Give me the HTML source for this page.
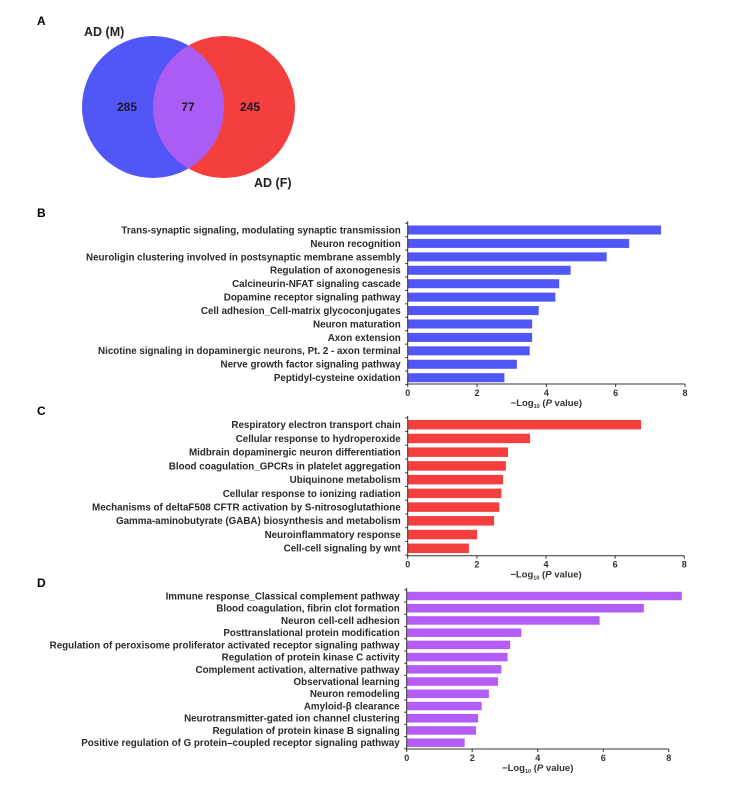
<!DOCTYPE html>
<html><head><meta charset="utf-8"><style>
html,body{margin:0;padding:0;background:#fff;}
svg{display:block;font-family:"Liberation Sans",Arial,sans-serif;}
</style></head><body>
<svg id="fig" width="737" height="785" viewBox="0 0 737 785">
<g>
<text x="37" y="25" font-size="12" font-weight="bold">A</text>
<circle cx="153" cy="107" r="71" fill="#5156f6"/>
<circle cx="224" cy="107" r="71" fill="#f53e3e"/>
<path d="M188.5,45.5 A71,71 0 0,1 188.5,168.5 A71,71 0 0,1 188.5,45.5 Z" fill="#aa5cf4"/>
<text x="84" y="36" font-size="12.5" font-weight="bold" fill="#222">AD (M)</text>
<text x="254" y="187" font-size="12.5" font-weight="bold" fill="#222">AD (F)</text>
<text x="127" y="111" font-size="12" font-weight="bold" text-anchor="middle" fill="#1a1a2a">285</text>
<text x="188" y="111" font-size="12" font-weight="bold" text-anchor="middle" fill="#1a1a2a">77</text>
<text x="250" y="111" font-size="12" font-weight="bold" text-anchor="middle" fill="#1a1a2a">245</text>
</g>
</svg>
<script>
const catsB=["Trans-synaptic signaling, modulating synaptic transmission","Neuron recognition","Neuroligin clustering involved in postsynaptic membrane assembly","Regulation of axonogenesis","Calcineurin-NFAT signaling cascade","Dopamine receptor signaling pathway","Cell adhesion_Cell-matrix glycoconjugates","Neuron maturation","Axon extension","Nicotine signaling in dopaminergic neurons, Pt. 2 - axon terminal","Nerve growth factor signaling pathway","Peptidyl-cysteine oxidation"];
const valsB=[7.31,6.39,5.74,4.70,4.37,4.26,3.78,3.59,3.59,3.52,3.15,2.79];
const catsC=["Respiratory electron transport chain","Cellular response to hydroperoxide","Midbrain dopaminergic neuron differentiation","Blood coagulation_GPCRs in platelet aggregation","Ubiquinone metabolism","Cellular response to ionizing radiation","Mechanisms of deltaF508 CFTR activation by S-nitrosoglutathione","Gamma-aminobutyrate (GABA) biosynthesis and metabolism","Neuroinflammatory response","Cell-cell signaling by wnt"];
const valsC=[6.75,3.54,2.90,2.84,2.76,2.71,2.65,2.50,2.01,1.77];
const catsD=["Immune response_Classical complement pathway","Blood coagulation, fibrin clot formation","Neuron cell-cell adhesion","Posttranslational protein modification","Regulation of peroxisome proliferator activated receptor signaling pathway","Regulation of protein kinase C activity","Complement activation, alternative pathway","Observational learning","Neuron remodeling","Amyloid-\u03b2 clearance","Neurotransmitter-gated ion channel clustering","Regulation of protein kinase B signaling","Positive regulation of G protein\u2013coupled receptor signaling pathway"];
const valsD=[8.40,7.24,5.89,3.50,3.16,3.08,2.89,2.79,2.51,2.29,2.18,2.12,1.77];
const ticks=[0,2,4,6,8];

const NS="http://www.w3.org/2000/svg";
const svg=document.getElementById('fig');
function mk(tag,attrs,parent,text){const e=document.createElementNS(NS,tag);for(const k in attrs)e.setAttribute(k,attrs[k]);if(text!==undefined)e.textContent=text;parent.appendChild(e);return e;}

function chart(id,letter,letterY,cats,vals,color,x0,x8,yFirst,yLast,axisY,barH){
  const g=mk('g',{},svg);
  
  
  const xs=v=>x0+(x8-x0)*v/8;
  const step=(yLast-yFirst)/(cats.length-1);
  const ys=i=>yFirst+i*step;
  const lt=mk('text',{x:37,y:letterY,'font-size':12,'font-weight':'bold'},g,letter);
  
  
  cats.forEach((c,i)=>{
    const r=mk('rect',{x:xs(0),y:ys(i)-barH/2,width:xs(vals[i])-xs(0),height:barH,fill:color},g);
    
    
    const t=mk('text',{x:x0-7,y:ys(i)+3.4,'font-size':9.8,'font-weight':'bold','text-anchor':'end',fill:'#2a2a2a'},g,c);
    
    
  });
  const top=yFirst-step/2-2;
  const ya=mk('line',{x1:x0,y1:top,x2:x0,y2:axisY,stroke:'#333','stroke-width':1},g);
  
  
  for(let i=0;i<=cats.length;i++){
    const yy=yFirst-step/2+i*step;
    mk('line',{x1:x0-2.5,y1:yy,x2:x0,y2:yy,stroke:'#333','stroke-width':1},g);
  }
  const xa=mk('line',{x1:x0,y1:axisY,x2:x8,y2:axisY,stroke:'#333','stroke-width':1},g);
  
  
  ticks.forEach(v=>{
    mk('line',{x1:xs(v),y1:axisY,x2:xs(v),y2:axisY+3,stroke:'#333','stroke-width':1},g);
    const tl=mk('text',{x:xs(v),y:axisY+12,'font-size':9,'font-weight':'bold','text-anchor':'middle',fill:'#333'},g,String(v));
    
    
  });
  const at=mk('text',{x:xs(4),y:axisY+22,'font-size':9.5,'font-weight':'bold','text-anchor':'middle',fill:'#333'},g);
  
  
  mk('tspan',{},at,'\u2212Log');
  mk('tspan',{'font-size':5.5,dy:2},at,'10');
  mk('tspan',{dy:-2},at,' (');
  mk('tspan',{'font-style':'italic'},at,'P');
  mk('tspan',{},at,' value)');
}
chart('b','B',217,catsB,valsB,'#5156f6',407.7,685,230,377.7,384,9);
chart('c','C',415,catsC,valsC,'#f53e3e',407.7,684.3,424.7,548.3,555.7,9.5);
chart('d','D',587,catsD,valsD,'#b35cf6',406.7,668.7,596,742.7,749,8.5);
</script>
</body></html>
